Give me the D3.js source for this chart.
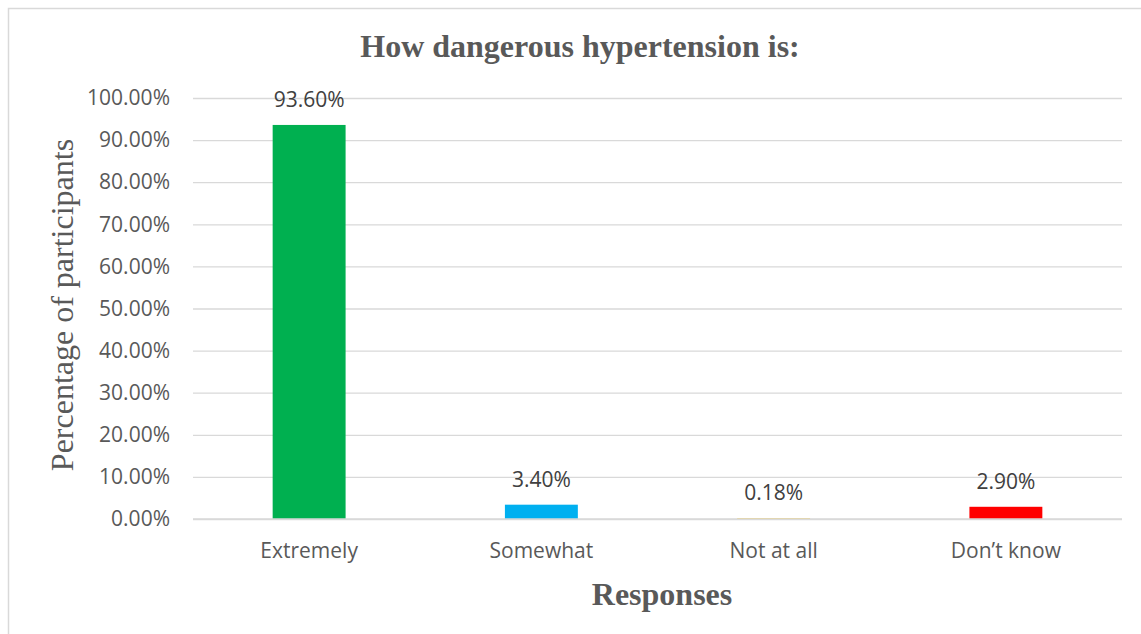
<!DOCTYPE html>
<html>
<head>
<meta charset="utf-8">
<script src="https://cdn.jsdelivr.net/npm/d3@7"></script>
<style>
  body { margin: 0; background: #fff; }
  svg { display: block; }
</style>
</head>
<body>
<svg width="1141" height="634"></svg>
<script>
const categories = ["Extremely", "Somewhat", "Not at all", "Don\u2019t know"]
const values = [0.936, 0.034, 0.0018, 0.029]
const labels = ["93.60%", "3.40%", "0.18%", "2.90%"]
const colors = ["#00b050", "#00b0f0", "#ffc000", "#ff0000"]
const yTicks = [0, 0.1, 0.2, 0.3, 0.4, 0.5, 0.6, 0.7, 0.8, 0.9, 1.0]

const svg = d3.select("svg")

// chart frame (only top & left edges visible in the crop)
svg.append("rect")
    .attr("x", 8.5)
    .attr("y", 8.5)
    .attr("width", 1200)
    .attr("height", 700)
    .attr("fill", "none")
    .attr("stroke", "#d9d9d9")
    .attr("stroke-width", 1.5)

const xScale = d3.scaleBand().domain(categories).range([193, 1122]).paddingInner(0.686).paddingOuter(0.343)
const yScale = d3.scaleLinear().domain([0, 1]).range([519, 98])

function addAxes(){
    const yAxis = d3.axisLeft(yScale).tickValues(yTicks).tickFormat(d3.format(".2%")).tickSize(-929).tickPadding(23)

    svg.append("g")
        .attr("id", "yAxisG")
        .attr("transform", "translate(193, 0)")
        .call(yAxis)

    d3.select("#yAxisG").selectAll("line")
        .attr("stroke", "#d9d9d9")
        .attr("stroke-width", 1.3)

    d3.select("#yAxisG").selectAll("text")
        .attr("fill", "#595959")
        .style("font-family", "'Open Sans', sans-serif")
        .style("font-size", "21px")

    const xAxis = d3.axisBottom(xScale).tickSize(0).tickPadding(24)

    svg.append("g")
        .attr("id", "xAxisG")
        .attr("transform", "translate(0, 519)")
        .call(xAxis)

    d3.select("#xAxisG").selectAll("text")
        .attr("fill", "#595959")
        .style("font-family", "'Open Sans', sans-serif")
        .style("font-size", "21px")

    svg.selectAll("path.domain").style("display", "none")
}

function addBars(){
    const data = categories.map((c, i) => ({ cat: c, value: values[i], label: labels[i], color: colors[i] }))

    svg.append("g")
        .selectAll("rect")
        .data(data)
        .enter()
        .append("rect")
        .attr("x", d => xScale(d.cat))
        .attr("y", d => yScale(d.value))
        .attr("width", xScale.bandwidth())
        .attr("height", d => yScale(0) - yScale(d.value))
        .attr("fill", d => d.color)

    // zero line sits over the bars' base
    svg.append("line")
        .attr("x1", 193)
        .attr("x2", 1122)
        .attr("y1", yScale(0))
        .attr("y2", yScale(0))
        .attr("stroke", "#d9d9d9")
        .attr("stroke-width", 1.5)

    svg.append("g")
        .selectAll("text")
        .data(data)
        .enter()
        .append("text")
        .attr("x", d => xScale(d.cat) + xScale.bandwidth() / 2)
        .attr("y", d => yScale(d.value) - 18)
        .attr("text-anchor", "middle")
        .attr("fill", "#404040")
        .style("font-family", "'Open Sans', sans-serif")
        .style("font-size", "21px")
        .text(d => d.label)
}

function addTitles(){
    svg.append("text")
        .attr("x", 580)
        .attr("y", 57)
        .attr("text-anchor", "middle")
        .attr("fill", "#595959")
        .style("font-family", "'Liberation Serif', 'Times New Roman', serif")
        .style("font-weight", "bold")
        .style("font-size", "32px")
        .text("How dangerous hypertension is:")

    svg.append("text")
        .attr("x", 662)
        .attr("y", 605)
        .attr("text-anchor", "middle")
        .attr("fill", "#595959")
        .style("font-family", "'Liberation Serif', 'Times New Roman', serif")
        .style("font-weight", "bold")
        .style("font-size", "32px")
        .text("Responses")

    svg.append("text")
        .attr("transform", "translate(73, 305) rotate(-90)")
        .attr("text-anchor", "middle")
        .attr("fill", "#595959")
        .style("font-family", "'Liberation Serif', 'Times New Roman', serif")
        .style("font-size", "32px")
        .text("Percentage of participants")
}

addAxes()
addBars()
addTitles()
</script>
</body>
</html>
